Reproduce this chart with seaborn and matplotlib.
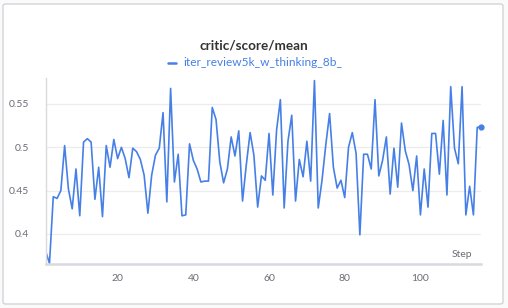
# critic/score/mean - courbe style wandb

import numpy as np
import pandas as pd
import matplotlib
matplotlib.use('Agg')
import matplotlib.pyplot as plt
from matplotlib.patches import FancyBboxPatch
from matplotlib.lines import Line2D
import seaborn as sns

# Donnees (step 1..116)
steps = list(range(1, 117))
scores = [
    0.380, 0.366, 0.443, 0.441, 0.450, 0.502, 0.452, 0.429, 0.475, 0.421,
    0.506, 0.510, 0.506, 0.440, 0.477, 0.420, 0.502, 0.477, 0.509, 0.487,
    0.500, 0.487, 0.465, 0.499, 0.495, 0.486, 0.468, 0.424, 0.468, 0.491,
    0.499, 0.540, 0.437, 0.568, 0.460, 0.492, 0.421, 0.422, 0.504, 0.485,
    0.475, 0.460, 0.461, 0.461, 0.546, 0.532, 0.483, 0.459, 0.475, 0.512,
    0.490, 0.519, 0.438, 0.480, 0.517, 0.491, 0.431, 0.467, 0.462, 0.516,
    0.445, 0.520, 0.555, 0.430, 0.507, 0.537, 0.438, 0.486, 0.466, 0.507,
    0.461, 0.577, 0.430, 0.462, 0.503, 0.539, 0.477, 0.453, 0.462, 0.442,
    0.500, 0.517, 0.493, 0.399, 0.492, 0.492, 0.475, 0.555, 0.467, 0.485,
    0.512, 0.446, 0.499, 0.454, 0.528, 0.496, 0.480, 0.450, 0.490, 0.422,
    0.475, 0.431, 0.516, 0.516, 0.469, 0.531, 0.445, 0.570, 0.499, 0.481,
    0.570, 0.422, 0.455, 0.422, 0.523, 0.524,
]
run_name = 'iter_review5k_w_thinking_8b_'
x_ticks = [20, 40, 60, 80, 100]
y_ticks = [0.4, 0.45, 0.5, 0.55]
y_tick_labels = ['0.4', '0.45', '0.5', '0.55']

BLEU = '#4680e6'
GRIS_TEXTE = '#6b6b76'
GRIS_GRILLE = '#ececef'
GRIS_AXE = '#d9d9de'

sns.set_theme(style='white')
plt.rcParams['font.family'] = ['Lato', 'DejaVu Sans']

df = pd.DataFrame({'Step': steps, 'score': scores})

fig = plt.figure(figsize=(5.08, 3.08), dpi=100)
fig.patch.set_facecolor('#fafafa')

# carte blanche avec bordure
carte = FancyBboxPatch((3 / 508, 4 / 308), 500 / 508, 300 / 308,
                       boxstyle='round,pad=0,rounding_size=0.006',
                       transform=fig.transFigure, facecolor='white',
                       edgecolor='#d2d2d9', linewidth=1.0, zorder=-10)
fig.add_artist(carte)

ax = fig.add_axes([45.7 / 508, (308 - 264.3) / 308, (481 - 45.7) / 508, (264.3 - 78) / 308])
ax.set_facecolor('none')
ax.set_zorder(2)

sns.lineplot(data=df, x='Step', y='score', ax=ax, color=BLEU, linewidth=1.2)
ax.plot(df['Step'].iloc[-1], df['score'].iloc[-1], 'o', color=BLEU, markersize=3.5,
        clip_on=False)

ax.set_xlim(1, 116)
ax.set_ylim(0.365, 0.58)
ax.set_xticks(x_ticks)
ax.set_xticklabels([str(t) for t in x_ticks])
ax.set_yticks(y_ticks)
ax.set_yticklabels(y_tick_labels)
ax.set_xlabel('')
ax.set_ylabel('')

ax.grid(axis='y', color=GRIS_GRILLE, linewidth=0.9)
ax.set_axisbelow(True)
for cote in ['top', 'right']:
    ax.spines[cote].set_visible(False)
ax.spines['bottom'].set_color(GRIS_AXE)
ax.spines['bottom'].set_linewidth(1.8)
ax.spines['left'].set_color(GRIS_AXE)
ax.spines['left'].set_linewidth(1.0)

ax.tick_params(axis='x', direction='inout', length=8, width=1.2, color=GRIS_AXE,
               labelsize=7.5, labelcolor=GRIS_TEXTE, pad=3)
ax.tick_params(axis='y', length=4, width=0.9, color=GRIS_GRILLE,
               labelsize=7.5, labelcolor=GRIS_TEXTE, pad=8)

ax.text(0.98, 0.03, 'Step', transform=ax.transAxes, ha='right', va='bottom',
        fontsize=7.5, color=GRIS_TEXTE)

fig.text(254 / 508, 1 - 45 / 308, 'critic/score/mean', ha='center', va='center',
         fontsize=9.7, fontweight='bold', color='#333333')
fig.add_artist(Line2D([168 / 508, 176 / 508], [1 - 63 / 308, 1 - 63 / 308],
                      transform=fig.transFigure, color=BLEU, linewidth=1.8))
fig.text(183 / 508, 1 - 63 / 308, run_name, ha='left', va='center',
         fontsize=8.6, color=BLEU)

fig.savefig('out.png', dpi=100, facecolor=fig.get_facecolor())
